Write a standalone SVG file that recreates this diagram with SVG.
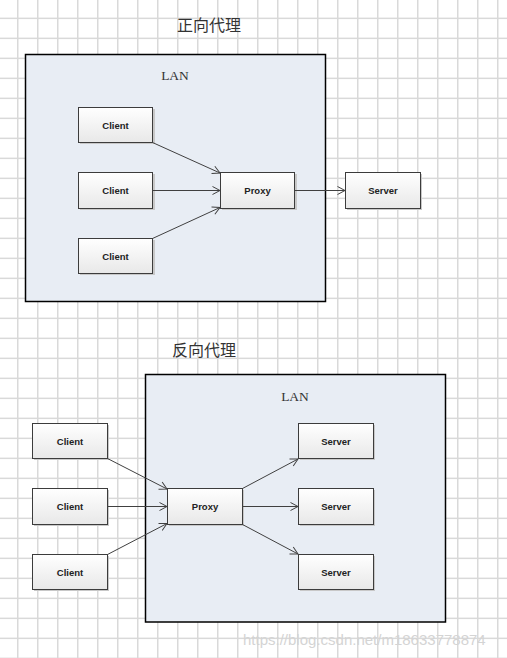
<svg xmlns="http://www.w3.org/2000/svg" width="507" height="658" viewBox="0 0 507 658">
<defs>
<pattern id="grid" x="0" y="0" width="20" height="20" patternUnits="userSpaceOnUse">
<rect x="17" y="0" width="1.5" height="20" fill="#d9d9d9"/>
<rect x="0" y="17.6" width="20" height="1.5" fill="#d9d9d9"/>
</pattern>
<linearGradient id="boxg" x1="0" y1="0" x2="0" y2="1">
<stop offset="0" stop-color="#ffffff"/>
<stop offset="1" stop-color="#e8e8e8"/>
</linearGradient>
<marker id="arr" markerUnits="userSpaceOnUse" markerWidth="10" markerHeight="10" refX="8" refY="4.5" orient="auto" viewBox="0 0 10 9">
<path d="M0.5,0.5 L8,4.5 L0.5,8.5" fill="none" stroke="#404040" stroke-width="1"/>
</marker>
</defs>
<style>
.lan{fill:#e8edf4;stroke:#000;stroke-width:1.5}
.box{fill:url(#boxg);stroke:#3c3c3c;stroke-width:1}
.shadow{fill:#c8c8c8}
.lbl{font-family:"Liberation Sans",Arial,sans-serif;font-size:9.5px;font-weight:bold;fill:#222;text-anchor:middle}
.title{font-family:"Noto Sans CJK SC",sans-serif;font-size:16px;fill:#333}
.lant{font-family:"Liberation Serif",serif;font-size:13.5px;fill:#333;text-anchor:middle}
.conn{stroke:#404040;stroke-width:1;fill:none;marker-end:url(#arr)}
.wm{font-family:"Liberation Sans",Arial,sans-serif;font-size:15px;fill:#d4d4d4}
</style>
<rect width="507" height="658" fill="#fff"/>
<rect width="507" height="658" fill="url(#grid)"/>

<text class="title" x="177" y="31">正向代理</text>
<g id="lan1">
<rect class="lan" x="25.5" y="54.5" width="300" height="247"/>
<text class="lant" x="175" y="80">LAN</text>
</g>
<g id="client1a"><rect class="shadow" x="80" y="109" width="75" height="35"/><rect class="box" x="78.5" y="107.5" width="74" height="35"/><text class="lbl" x="115.5" y="128.5">Client</text></g>
<g id="client1b"><rect class="shadow" x="80" y="174" width="75" height="36"/><rect class="box" x="78.5" y="172.5" width="74" height="36"/><text class="lbl" x="115.5" y="194">Client</text></g>
<g id="client1c"><rect class="shadow" x="80" y="240" width="75" height="35"/><rect class="box" x="78.5" y="238.5" width="74" height="35"/><text class="lbl" x="115.5" y="259.5">Client</text></g>
<g id="proxy1"><rect class="shadow" x="222" y="174" width="75" height="36"/><rect class="box" x="220.5" y="172.5" width="74" height="36"/><text class="lbl" x="257.5" y="194">Proxy</text></g>
<g id="server1"><rect class="shadow" x="347" y="174" width="75" height="36"/><rect class="box" x="345.5" y="172.5" width="75" height="36"/><text class="lbl" x="383" y="194">Server</text></g>

<text class="title" x="172" y="356">反向代理</text>
<g id="lan2">
<rect class="lan" x="145.5" y="374.5" width="300" height="247.5"/>
<text class="lant" x="295" y="401">LAN</text>
</g>
<g id="client2a"><rect class="shadow" x="34" y="425" width="75" height="35"/><rect class="box" x="32.5" y="423.5" width="75" height="35"/><text class="lbl" x="70" y="444.5">Client</text></g>
<g id="client2b"><rect class="shadow" x="34" y="490" width="75" height="36"/><rect class="box" x="32.5" y="488.5" width="75" height="36"/><text class="lbl" x="70" y="510">Client</text></g>
<g id="client2c"><rect class="shadow" x="34" y="556" width="75" height="35"/><rect class="box" x="32.5" y="554.5" width="75" height="35"/><text class="lbl" x="70" y="575.5">Client</text></g>
<g id="proxy2"><rect class="shadow" x="169" y="490" width="75" height="36"/><rect class="box" x="167.5" y="488.5" width="75" height="36"/><text class="lbl" x="205" y="510">Proxy</text></g>
<g id="server2a"><rect class="shadow" x="300" y="425" width="75" height="35"/><rect class="box" x="298.5" y="423.5" width="75" height="35"/><text class="lbl" x="336" y="444.5">Server</text></g>
<g id="server2b"><rect class="shadow" x="300" y="490" width="75" height="36"/><rect class="box" x="298.5" y="488.5" width="75" height="36"/><text class="lbl" x="336" y="510">Server</text></g>
<g id="server2c"><rect class="shadow" x="300" y="556" width="75" height="35"/><rect class="box" x="298.5" y="554.5" width="75" height="35"/><text class="lbl" x="336" y="575.5">Server</text></g>

<g id="connectors">
<line class="conn" x1="152.5" y1="142.5" x2="220" y2="173"/>
<line class="conn" x1="152.5" y1="190.5" x2="220" y2="190.5"/>
<line class="conn" x1="152.5" y1="238.5" x2="220" y2="207.5"/>
<line class="conn" x1="294.5" y1="190.5" x2="345" y2="190.5"/>
<line class="conn" x1="107.5" y1="458.5" x2="167" y2="489"/>
<line class="conn" x1="107.5" y1="506.5" x2="167" y2="506.5"/>
<line class="conn" x1="107.5" y1="554.5" x2="167" y2="523.5"/>
<line class="conn" x1="242.5" y1="488.5" x2="298" y2="459"/>
<line class="conn" x1="242.5" y1="506.5" x2="298" y2="506.5"/>
<line class="conn" x1="242.5" y1="524.5" x2="298" y2="554"/>
</g>
<text class="wm" x="243" y="645">https://blog.csdn.net/m18633778874</text>
</svg>
